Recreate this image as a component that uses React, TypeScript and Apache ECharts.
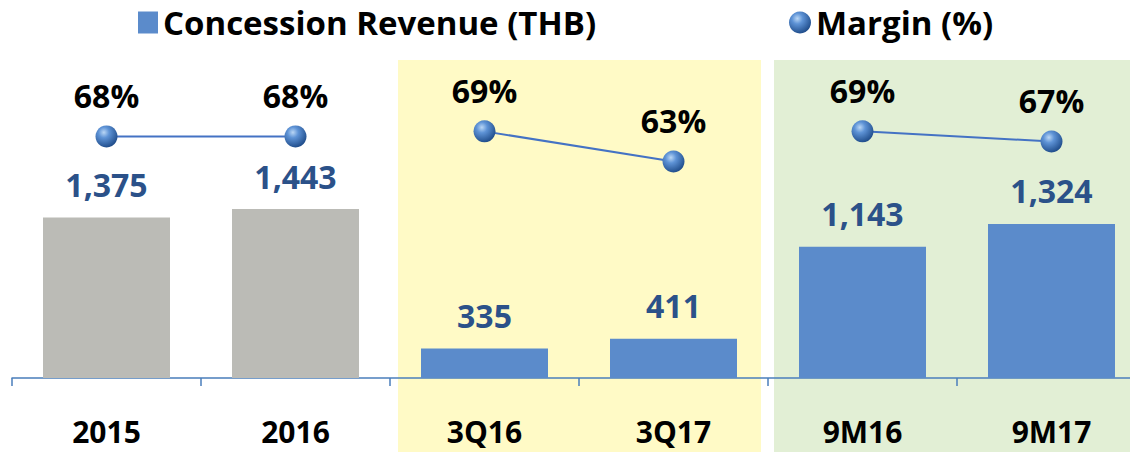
import React, { useEffect, useRef } from "react";
import * as echarts from "echarts";

const categories = ["2015", "2016", "3Q16", "3Q17", "9M16", "9M17"];
const revenue = [1375, 1443, 335, 411, 1143, 1324];
const margin = [68, 68, 69, 63, 69, 67];
const barColors = ["#BBBBB6", "#BBBBB6", "#5B8BCB", "#5B8BCB", "#5B8BCB", "#5B8BCB"];
const marginGroups = [[0, 1], [2, 3], [4, 5]];

const FONT = "'Open Sans', 'Noto Sans', sans-serif";

const sphere = new echarts.graphic.RadialGradient(0.38, 0.32, 0.7, [
  { offset: 0, color: "#B9D6F5" },
  { offset: 0.35, color: "#5E93D6" },
  { offset: 1, color: "#1F4C8A" },
]);

export default function App() {
  const ref = useRef<HTMLDivElement>(null);
  useEffect(() => {
    if (!ref.current) return;
    const chart = echarts.init(ref.current, null, { renderer: "svg" });
    const lineSeries = marginGroups.map((g) => ({
      name: "Margin (%)",
      type: "line",
      yAxisIndex: 1,
      z: 5,
      data: margin.map((v, i) => (g.includes(i) ? v : "-")),
      lineStyle: { color: "#4472C4", width: 2 },
      symbol: "circle",
      symbolSize: 22,
      itemStyle: { color: sphere },
      label: {
        show: true,
        position: "top",
        distance: 14,
        formatter: "{c}%",
        fontFamily: FONT,
        fontWeight: "bold",
        fontSize: 32,
        color: "#000",
      },
    }));
    chart.setOption({
      animation: false,
      textStyle: { fontFamily: FONT },
      graphic: [
        { type: "rect", z: -10, shape: { x: 398, y: 60, width: 363, height: 392 }, style: { fill: "#FFFAC6" } },
        { type: "rect", z: -10, shape: { x: 774, y: 60, width: 372, height: 392 }, style: { fill: "#E2EFD5" } },
      ],
      legend: [
        {
          left: 133,
          top: 1,
          itemWidth: 20,
          itemHeight: 22,
          itemGap: 0,
          textStyle: { fontFamily: FONT, fontWeight: "bold", fontSize: 33, color: "#000" },
          data: [{ name: "Concession Revenue (THB)", icon: "rect" }],
        },
        {
          left: 784,
          top: 1,
          itemWidth: 22,
          itemHeight: 22,
          textStyle: { fontFamily: FONT, fontWeight: "bold", fontSize: 33, color: "#000" },
          data: [{ name: "Margin (%)", icon: "circle" }],
        },
      ],
      grid: { left: 12, top: 76, bottom: 74, right: 0, containLabel: false },
      xAxis: {
        type: "category",
        data: categories,
        axisLine: { lineStyle: { color: "#4A7EBB", width: 1.5 } },
        axisTick: { show: true, length: 8, lineStyle: { color: "#4A7EBB", width: 1.5 } },
        axisLabel: {
          margin: 38,
          fontFamily: FONT,
          fontWeight: "bold",
          fontSize: 30,
          color: "#000",
        },
      },
      yAxis: [
        { type: "value", min: 100, max: 2500, show: false, splitLine: { show: false } },
        { type: "value", min: 20, max: 80, show: false, splitLine: { show: false } },
      ],
      series: [
        {
          name: "Concession Revenue (THB)",
          type: "bar",
          barWidth: 127,
          itemStyle: { color: "#5B8BCB" },
          data: revenue.map((v, i) => ({ value: v, itemStyle: { color: barColors[i] } })),
          label: {
            show: true,
            position: "top",
            distance: 17,
            formatter: (p: any) => p.value.toLocaleString("en-US"),
            fontFamily: FONT,
            fontWeight: "bold",
            fontSize: 32,
            color: "#2B5189",
          },
        },
        ...lineSeries,
      ],
    });
    return () => chart.dispose();
  }, []);
  return (
    <div
      style={{ position: "fixed", left: 0, top: 0, width: 1130, height: 452, overflow: "hidden", background: "#fff" }}
    >
      <div ref={ref} style={{ position: "absolute", left: 0, top: 0, width: 1146, height: 452 }} />
    </div>
  );
}
